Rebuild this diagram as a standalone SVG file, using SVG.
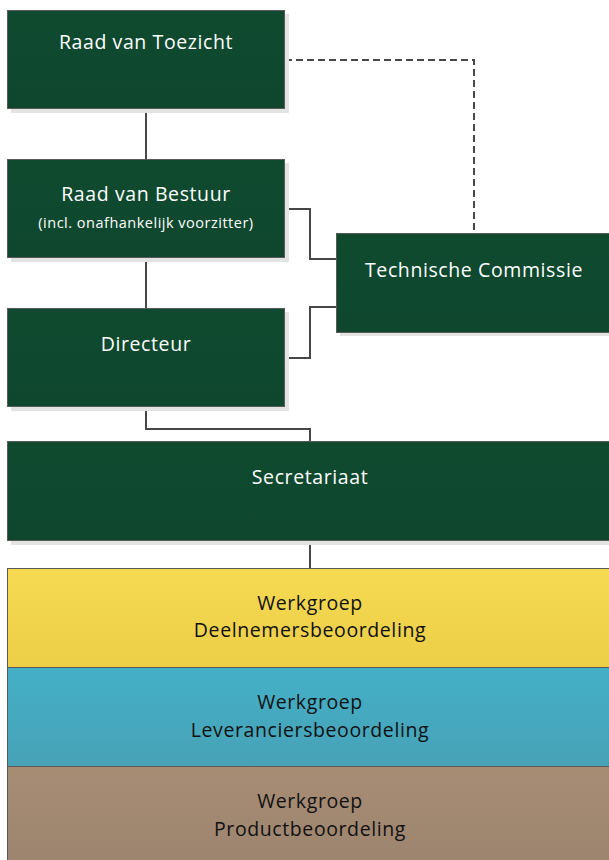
<svg xmlns="http://www.w3.org/2000/svg" width="609" height="860" viewBox="0 0 609 860">
<defs>
<linearGradient id="gGreen" x1="0" y1="0" x2="0" y2="1"><stop offset="0" stop-color="#0F4A2F"/><stop offset="1" stop-color="#0E472E"/></linearGradient>
<linearGradient id="gYellow" x1="0" y1="0" x2="0" y2="1"><stop offset="0" stop-color="#F6DA52"/><stop offset="1" stop-color="#ECCE47"/></linearGradient>
<linearGradient id="gBlue" x1="0" y1="0" x2="0" y2="1"><stop offset="0" stop-color="#43B0C8"/><stop offset="1" stop-color="#48A2B6"/></linearGradient>
<linearGradient id="gBrown" x1="0" y1="0" x2="0" y2="1"><stop offset="0" stop-color="#A88D75"/><stop offset="1" stop-color="#9C846E"/></linearGradient>
</defs>
<style>
.shadow{fill:#E3E3E3}
.box{stroke:#5A5A5A;stroke-width:1}
.green{fill:url(#gGreen)}
.t{font-family:"Open Sans","Liberation Sans",sans-serif;text-anchor:middle}
.w{fill:#FFFFFF;font-size:19.5px;letter-spacing:0.6px}
.ws{fill:#FFFFFF;font-size:14.5px;letter-spacing:0.5px}
.d{fill:#111111;font-size:19.5px;letter-spacing:0.6px}
.conn{fill:none;stroke:#474747;stroke-width:2}
.dash{stroke-dasharray:7 4}
</style>
<g id="connectors">
<path class="conn" d="M146 109 V159"/>
<path class="conn" d="M146 258 V308"/>
<path class="conn dash" d="M285 60 H474 V233"/>
<path class="conn" d="M285 209 H310 V259 H336"/>
<path class="conn" d="M336 307 H310 V358 H285"/>
<path class="conn" d="M146 407 V429 H310 V441"/>
<path class="conn" d="M310 541 V568"/>
</g>
<g id="raad-van-toezicht">
<rect class="shadow" x="11" y="14" width="278" height="99"/>
<rect class="box green" x="7.5" y="10.5" width="277" height="98"/>
<text class="t w" x="146" y="49">Raad van Toezicht</text>
</g>
<g id="raad-van-bestuur">
<rect class="shadow" x="11" y="163" width="278" height="99"/>
<rect class="box green" x="7.5" y="159.5" width="277" height="98"/>
<text class="t w" x="146" y="201">Raad van Bestuur</text>
<text class="t ws" x="146" y="228">(incl. onafhankelijk voorzitter)</text>
</g>
<g id="directeur">
<rect class="shadow" x="11" y="312" width="278" height="99"/>
<rect class="box green" x="7.5" y="308.5" width="277" height="98"/>
<text class="t w" x="146" y="351">Directeur</text>
</g>
<g id="technische-commissie">
<rect class="shadow" x="340" y="237" width="278" height="99"/>
<rect class="box green" x="336.5" y="233.5" width="277" height="99"/>
<text class="t w" x="474" y="277">Technische Commissie</text>
</g>
<g id="secretariaat">
<rect class="shadow" x="11" y="445" width="606" height="100"/>
<rect class="box green" x="7.5" y="441.5" width="606" height="99"/>
<text class="t w" x="310" y="484">Secretariaat</text>
</g>
<g id="werkgroep-deelnemers">
<rect class="box" fill="url(#gYellow)" x="7.5" y="568.5" width="606" height="99"/>
<text class="t d" x="310" y="610">Werkgroep</text>
<text class="t d" x="310" y="637">Deelnemersbeoordeling</text>
</g>
<g id="werkgroep-leveranciers">
<rect class="box" fill="url(#gBlue)" x="7.5" y="667.5" width="606" height="99"/>
<text class="t d" x="310" y="709">Werkgroep</text>
<text class="t d" x="310" y="737">Leveranciersbeoordeling</text>
</g>
<g id="werkgroep-product">
<rect class="box" fill="url(#gBrown)" x="7.5" y="766.5" width="606" height="99"/>
<text class="t d" x="310" y="808">Werkgroep</text>
<text class="t d" x="310" y="836">Productbeoordeling</text>
</g>
</svg>
